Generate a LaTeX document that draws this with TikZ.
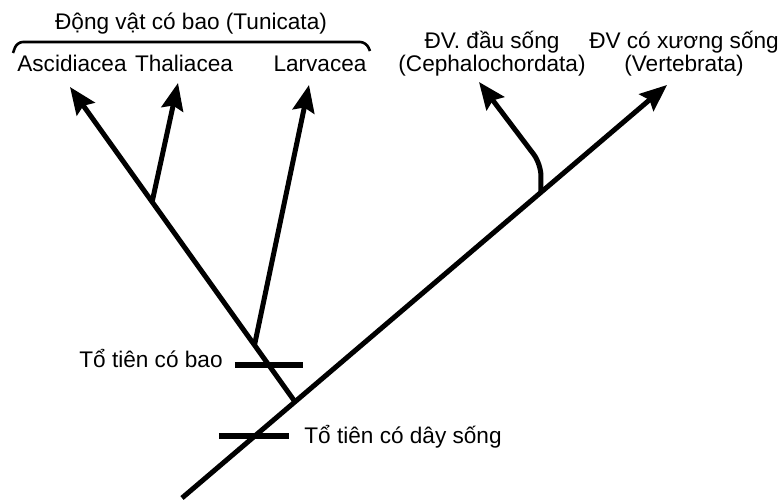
\documentclass[tikz,border=0pt]{standalone}
\usepackage{fontspec}
\setmainfont{Liberation Sans}
\usetikzlibrary{arrows.meta,calc}
\tikzset{
  branch/.style={line width=2.5pt, black},
  lineage/.style={branch, -{Stealth[length=13.5pt, width=11pt, inset=2pt]}},
  bar/.style={line width=3pt},
  taxon/.style={inner sep=0pt, font=\fontsize{11.3}{11.5}\selectfont, anchor=base, align=center},
}
\begin{document}
\begin{tikzpicture}[x=0.5pt, y=-0.5pt]
    \useasboundingbox (0,0) rectangle (780,501);
    % tips and branch points
    \coordinate (root)    at (182,498);
    \coordinate (vertTip) at (667,85);
    \coordinate (ascTip)  at (70,87);
    \coordinate (thaTip)  at (178,83);
    \coordinate (larTip)  at (309,85);
    \coordinate (cepTip)  at (479,82);
    \coordinate (tun) at ($(root)!0.233!(vertTip)$);
    \coordinate (lar) at ($(tun)!0.18!(ascTip)$);
    \coordinate (tha) at ($(tun)!0.635!(ascTip)$);
    \coordinate (cep) at ($(root)!0.74!(vertTip)$);
    \coordinate (cepBend) at (541,164);
    \coordinate (ancTun)   at ($(tun)!0.116!(ascTip)$);
    \coordinate (ancChord) at ($(root)!0.15!(vertTip)$);
    % labels
    \node[taxon] (tunName) at (191,30) {Động vật có bao (Tunicata)};
    \node[taxon] (ascName) at (72,72)  {Ascidiacea};
    \node[taxon] (thaName) at (184,72) {Thaliacea};
    \node[taxon] (larName) at (320,72) {Larvacea};
    \node[taxon] (cepName) at (492,72) {ĐV. đầu sống\\(Cephalochordata)};
    \node[taxon] (vertName) at (684,72) {ĐV có xương sống\\(Vertebrata)};
    \node[taxon, anchor=base east] (ancTunName)   at (223,368) {Tổ tiên có bao};
    \node[taxon, anchor=base west] (ancChordName) at (304,443) {Tổ tiên có dây sống};
    % brace over tunicates
    \draw[line width=1.3pt, rounded corners=3pt] (13,53) -- (17,42) -- (366,42) -- (370,51);
    % tree
    \draw[lineage] (root) -- (vertTip);
    \draw[lineage] (tun) -- (ascTip);
    \draw[lineage] (tha) -- (thaTip);
    \draw[lineage] (lar) -- (larTip);
    \draw[lineage, rounded corners=6pt] (cep) -- (cepBend) -- (cepTip);
    % ancestor marks
    \draw[bar] ([xshift=-17pt]ancTun) -- ([xshift=17pt]ancTun);
    \draw[bar] ([xshift=-18pt]ancChord) -- ([xshift=17pt]ancChord);
\end{tikzpicture}
\end{document}
